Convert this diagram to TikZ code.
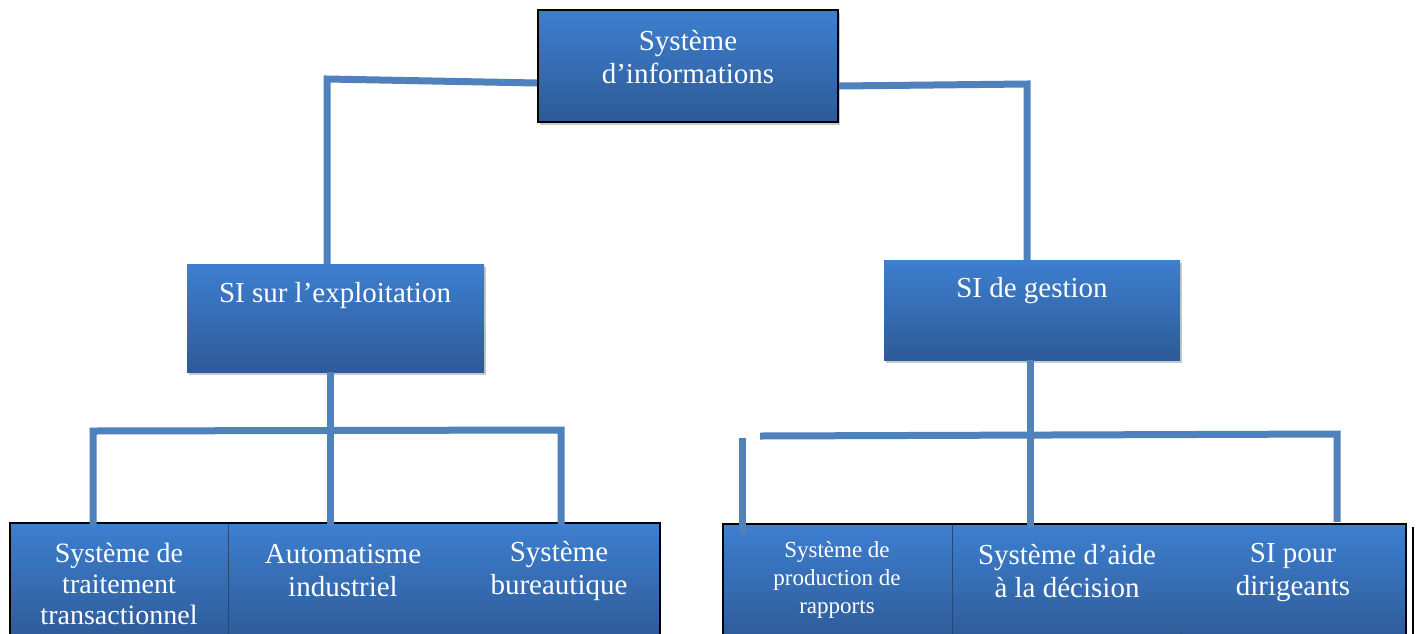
\documentclass[tikz,border=0pt]{standalone}
\usepackage{fontspec}
\setmainfont{Liberation Serif}
\usetikzlibrary{shadows}
\definecolor{topblue}{RGB}{61,127,208}
\definecolor{botblue}{RGB}{46,90,150}
\definecolor{linkblue}{RGB}{79,129,189}
\tikzset{
  box/.style={rectangle, top color=topblue, bottom color=botblue, inner sep=0pt},
  shade box/.style={box, drop shadow={shadow xshift=2pt, shadow yshift=-3pt, opacity=0.35, fill=black!60}},
  frame/.style={draw=black, line width=2pt},
  sep/.style={draw=botblue!80!black, line width=0.8pt},
  lbl/.style={text=white, align=center, font=\fontsize{29}{33}\selectfont, inner sep=0pt},
  lblsmall/.style={text=white, align=center, font=\fontsize{23}{28}\selectfont, inner sep=0pt},
  link/.style={draw=linkblue, line width=7pt, line join=miter},
}
\begin{document}
\begin{tikzpicture}[x=1pt, y=-1pt]
\path[use as bounding box] (0,0) rectangle (1416,633);
\clip (0,0) rectangle (1416,633);
\fill[white] (0,0) rectangle (1416,633);

% boxes
\node[shade box, frame, minimum width=300pt, minimum height=112pt] (top) at (688,66) {};
\node[shade box, minimum width=297pt, minimum height=108pt] (exp) at (335.5,318) {};
\node[shade box, minimum width=296pt, minimum height=100pt] (ges) at (1032,310) {};

\node[box, minimum width=218pt, minimum height=120pt] (b1) at (119,583) {};
\node[box, sep, minimum width=229pt, minimum height=120pt] (b2) at (342.5,583) {};
\node[box, minimum width=203pt, minimum height=120pt] (b3) at (558.5,583) {};
\draw[frame] (b1.south west) rectangle (b3.north east);

\node[box, minimum width=229pt, minimum height=120pt] (r1) at (837.5,584) {};
\node[box, sep, minimum width=229pt, minimum height=120pt] (r2) at (1066.5,584) {};
\node[box, minimum width=224pt, minimum height=120pt] (r3) at (1293.5,584) {};
\draw[frame] (r1.south west) rectangle (r3.north east);
\coordinate (edge) at (1413,527);
\draw[frame] (edge) -- (edge |- r3.south);

% connectors
\coordinate (j1) at (327,79);
\draw[link] ([yshift=-17pt]top.west) -- (j1) -- (j1 |- exp.north);
\coordinate (j2) at (1027,84);
\draw[link] ([yshift=-20pt]top.east) -- (j2) -- (j2 |- ges.north);

\coordinate (j3) at (330,431);
\draw[link] (j3 |- exp.south) -- ([yshift=-3pt]j3 |- b2.north);
\coordinate (j4) at (93,431);
\coordinate (j5) at (561,430);
\draw[link] ([yshift=-3pt]j4 |- b1.north) -- (j4) -- (j5) -- ([yshift=-3pt]j5 |- b3.north);

\coordinate (j6) at (1030,436);
\draw[link] (j6 |- ges.south) -- ([yshift=-4pt]j6 |- r2.north);
\coordinate (j7) at (760,436);
\coordinate (j8) at (1337,434);
\draw[link] (j7) -- (j8) -- ([yshift=2pt]j8 |- r3.north);
\coordinate (j9) at (742,438);
\draw[link] (j9) -- ([yshift=-10pt]j9 |- r1.north);

% labels
\node[lbl] (ttop) at (688,57) {Système\\d’informations};
\node[lbl] (texp) at (335,296) {SI sur l’exploitation};
\node[lbl] (tges) at (1032,291) {SI de gestion};
\node[lbl, font=\fontsize{28}{31}\selectfont] (tb1) at (119,584) {Système de\\traitement\\transactionnel};
\node[lbl] (tb2) at (343,571) {Automatisme\\industriel};
\node[lbl] (tb3) at (559,571) {Système\\bureautique};
\node[lblsmall] (tr1) at (837,580) {Système de\\production de\\rapports};
\node[lbl] (tr2) at (1067,571) {Système d’aide\\à la décision};
\node[lbl] (tr3) at (1293,573) {SI pour\\dirigeants};
\end{tikzpicture}
\end{document}
